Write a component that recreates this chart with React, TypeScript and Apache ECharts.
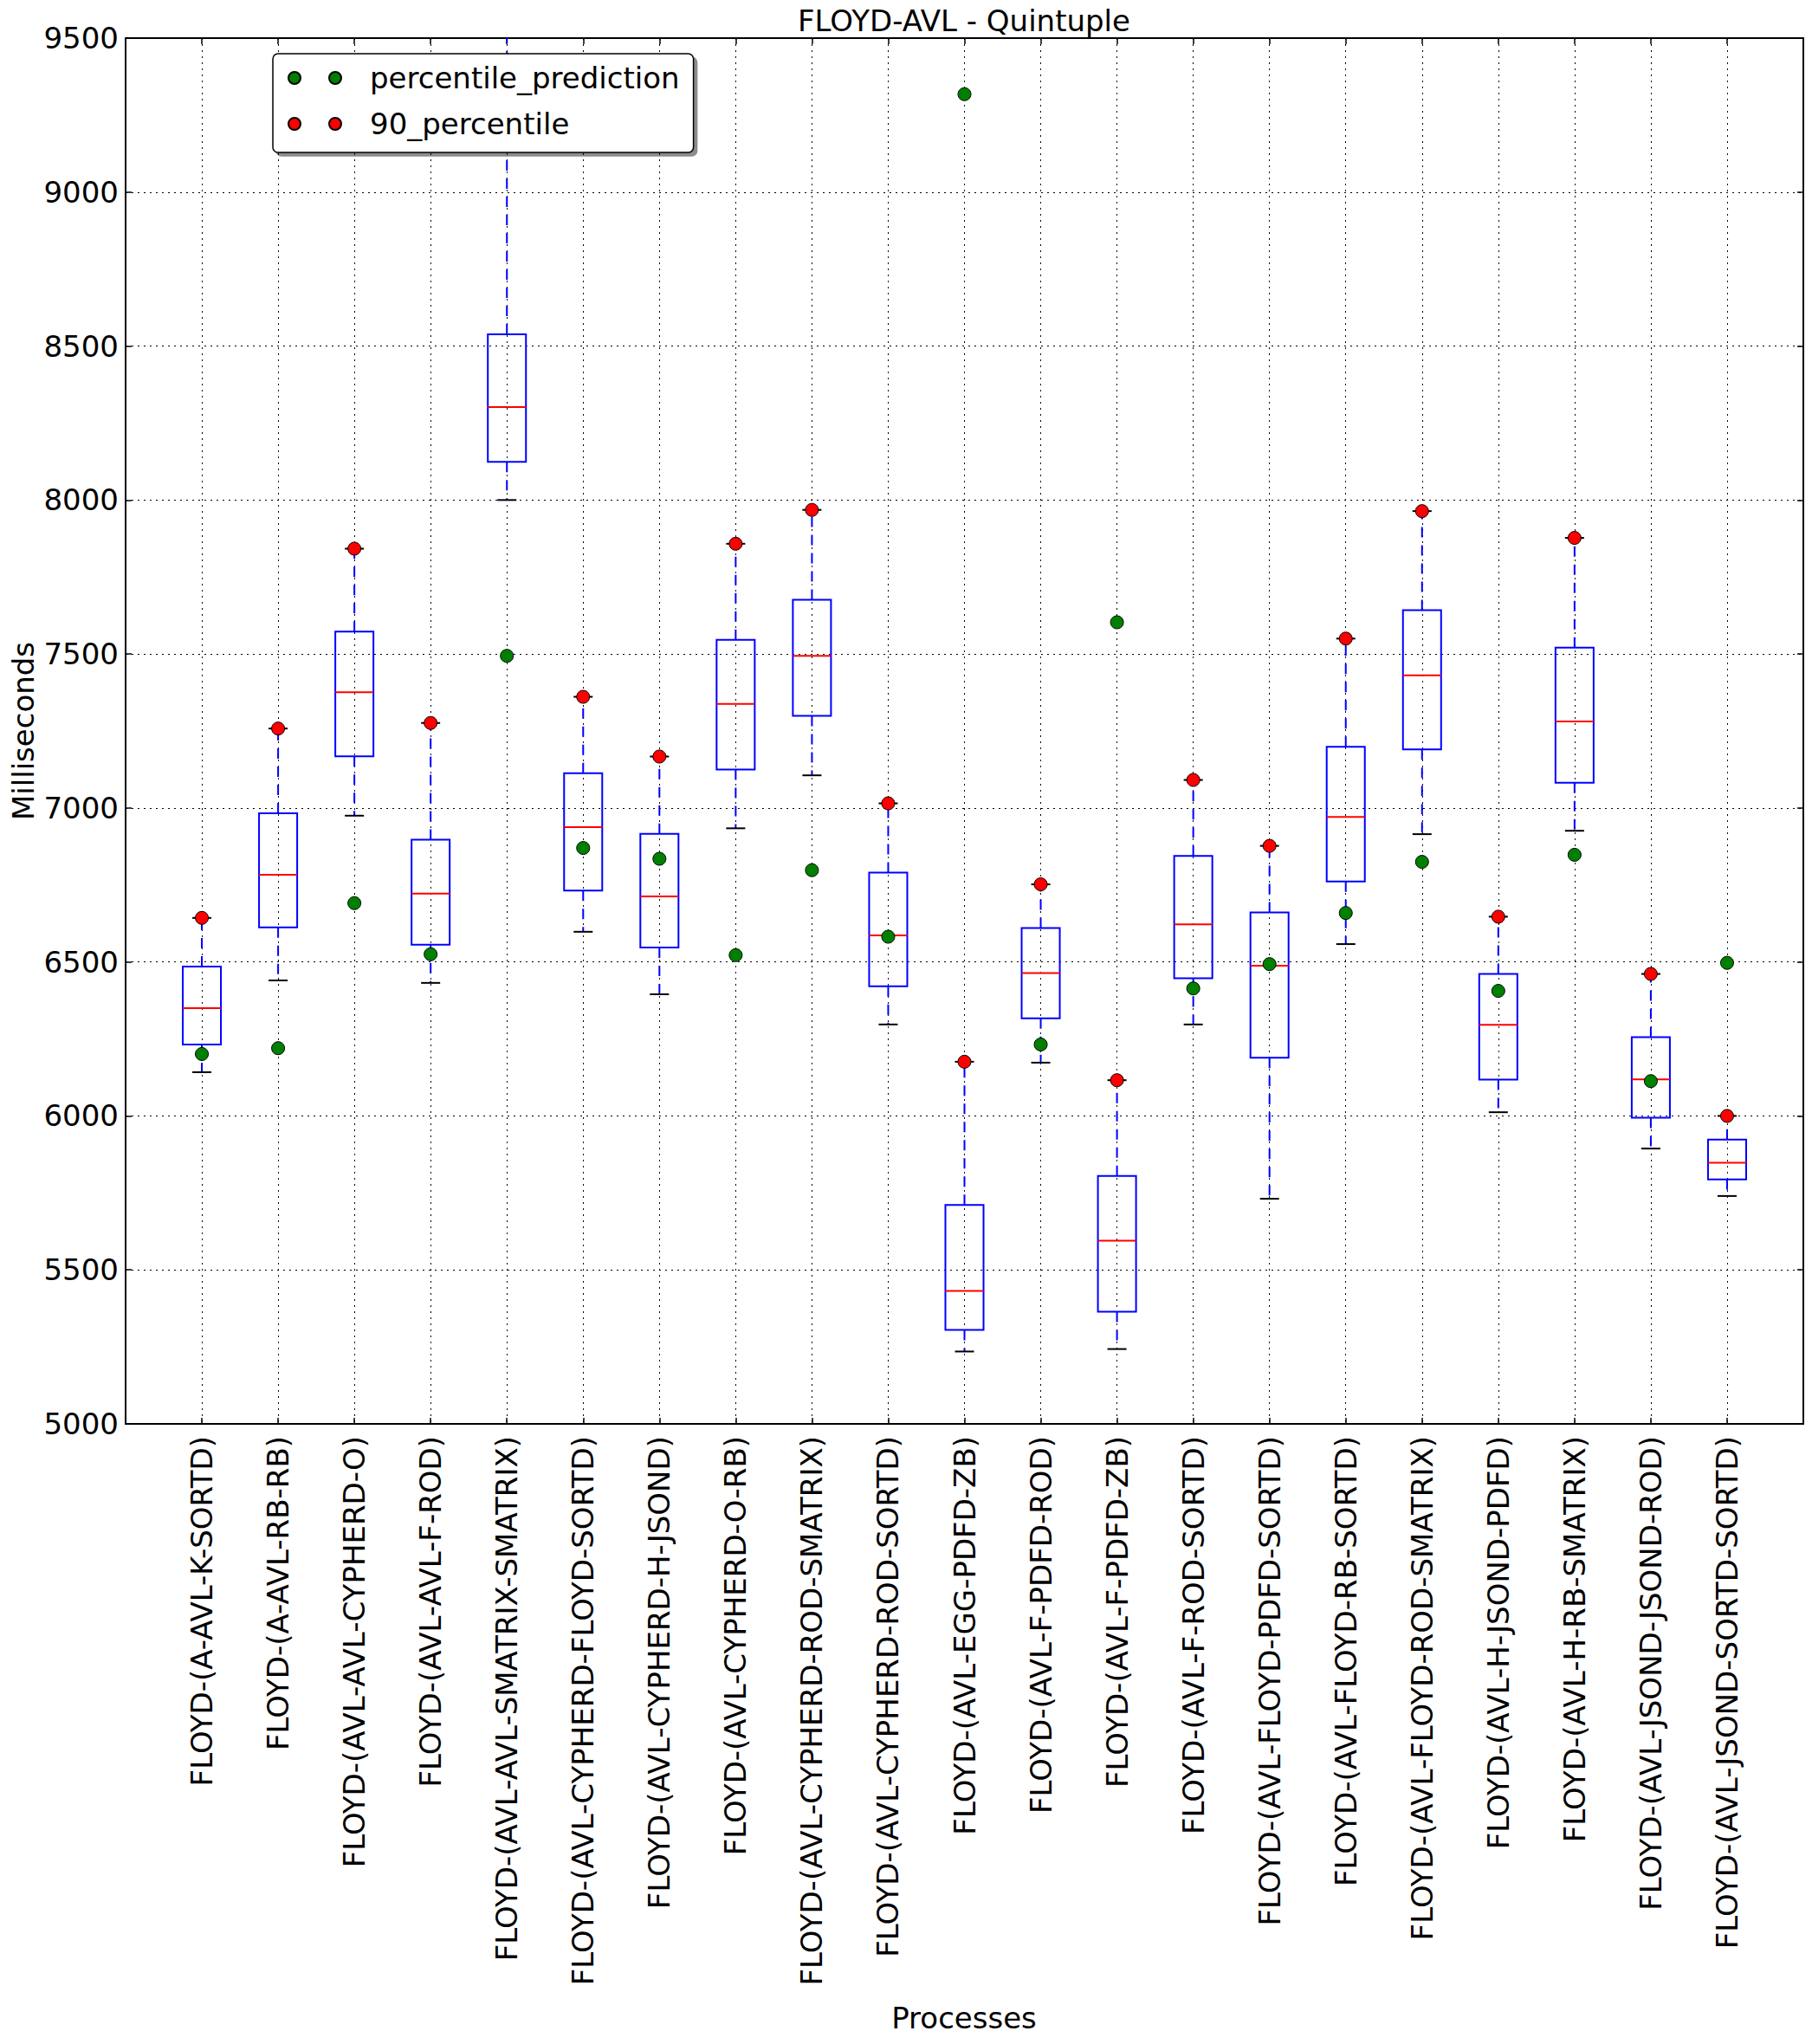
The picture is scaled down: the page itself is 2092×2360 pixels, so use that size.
import React, { useEffect, useRef } from "react";
import * as echarts from "echarts";

const categories = [
  "FLOYD-(A-AVL-K-SORTD)",
  "FLOYD-(A-AVL-RB-RB)",
  "FLOYD-(AVL-AVL-CYPHERD-O)",
  "FLOYD-(AVL-AVL-F-ROD)",
  "FLOYD-(AVL-AVL-SMATRIX-SMATRIX)",
  "FLOYD-(AVL-CYPHERD-FLOYD-SORTD)",
  "FLOYD-(AVL-CYPHERD-H-JSOND)",
  "FLOYD-(AVL-CYPHERD-O-RB)",
  "FLOYD-(AVL-CYPHERD-ROD-SMATRIX)",
  "FLOYD-(AVL-CYPHERD-ROD-SORTD)",
  "FLOYD-(AVL-EGG-PDFD-ZB)",
  "FLOYD-(AVL-F-PDFD-ROD)",
  "FLOYD-(AVL-F-PDFD-ZB)",
  "FLOYD-(AVL-F-ROD-SORTD)",
  "FLOYD-(AVL-FLOYD-PDFD-SORTD)",
  "FLOYD-(AVL-FLOYD-RB-SORTD)",
  "FLOYD-(AVL-FLOYD-ROD-SMATRIX)",
  "FLOYD-(AVL-H-JSOND-PDFD)",
  "FLOYD-(AVL-H-RB-SMATRIX)",
  "FLOYD-(AVL-JSOND-JSOND-ROD)",
  "FLOYD-(AVL-JSOND-SORTD-SORTD)",
];

const whiskerLow = [6142, 6440, 6975, 6432, 8000, 6598, 6395, 6934, 7106, 6297, 5235, 6173, 5243, 6297, 5731, 6558, 6915, 6012, 6926, 5894, 5740];
const q1 = [6232, 6612, 7168, 6556, 8124, 6732, 6547, 7125, 7299, 6421, 5305, 6317, 5364, 6447, 6189, 6761, 7190, 6118, 7082, 5994, 5794];
const median = [6350, 6783, 7376, 6722, 8302, 6938, 6713, 7338, 7494, 6586, 5432, 6464, 5595, 6622, 6488, 6971, 7431, 6296, 7281, 6119, 5848];
const q3 = [6485, 6983, 7573, 6897, 8538, 7113, 6916, 7546, 7676, 6790, 5711, 6610, 5805, 6844, 6661, 7199, 7642, 6461, 7521, 6256, 5923];
const whiskerHigh = [6643, 7258, 7842, 7276, 9750, 7361, 7167, 7858, 7968, 7015, 6176, 6752, 6116, 7091, 6877, 7550, 7964, 6647, 7877, 6461, 6000];
const percentile90 = [6643, 7258, 7842, 7276, 9750, 7361, 7167, 7858, 7968, 7015, 6176, 6752, 6116, 7091, 6877, 7550, 7964, 6647, 7877, 6461, 6000];
const percentilePrediction = [6201, 6220, 6691, 6525, 7494, 6870, 6835, 6522, 6798, 6582, 9318, 6232, 7603, 6414, 6493, 6659, 6825, 6406, 6848, 6113, 6497];

const yMin = 5000;
const yMax = 9500;
const yStep = 500;

const FONT = "DejaVu Sans";

export default function App() {
  const ref = useRef<HTMLDivElement>(null);

  useEffect(() => {
    document.body.style.margin = "0";
    if (!ref.current) return;
    const chart = echarts.init(ref.current, undefined, { renderer: "svg" });

    const boxData = categories.map((_, i) => [
      i + 1,
      whiskerLow[i],
      q1[i],
      median[i],
      q3[i],
      whiskerHigh[i],
    ]);
    const greenData = categories.map((_, i) => [i + 1, percentilePrediction[i]]);
    const redData = categories.map((_, i) => [i + 1, percentile90[i]]);

    const twoDots =
      "path://M0,7a7,7 0 1,0 14,0a7,7 0 1,0 -14,0z M47,7a7,7 0 1,0 14,0a7,7 0 1,0 -14,0z";

    const option: any = {
      animation: false,
      backgroundColor: "#ffffff",
      textStyle: { fontFamily: FONT },
      grid: { left: 145, right: 10, top: 44, bottom: 716, containLabel: false },
      xAxis: [
        {
          type: "value",
          min: 0,
          max: 22,
          interval: 1,
          position: "bottom",
          axisLine: { show: true, onZero: false, lineStyle: { color: "#000", width: 2 } },
          axisTick: { show: true, inside: true, length: 7, lineStyle: { color: "#000", width: 1.5 } },
          axisLabel: {
            show: true,
            rotate: 90,
            margin: 14,
            fontSize: 34,
            fontFamily: FONT,
            color: "#000",
            formatter: (v: number) => (v >= 1 && v <= categories.length ? categories[v - 1] : ""),
          },
          splitLine: { show: true, lineStyle: { color: "#000", width: 1, type: [2, 5] } },
        },
        {
          type: "value",
          min: 0,
          max: 22,
          interval: 1,
          position: "top",
          axisLine: { show: true, onZero: false, lineStyle: { color: "#000", width: 2 } },
          axisTick: { show: true, inside: true, length: 7, lineStyle: { color: "#000", width: 1.5 } },
          axisLabel: { show: false },
          splitLine: { show: false },
        },
      ],
      yAxis: [
        {
          type: "value",
          min: yMin,
          max: yMax,
          interval: yStep,
          position: "left",
          axisLine: { show: true, onZero: false, lineStyle: { color: "#000", width: 2 } },
          axisTick: { show: true, inside: true, length: 7, lineStyle: { color: "#000", width: 1.5 } },
          axisLabel: {
            fontSize: 34,
            margin: 8,
            color: "#000",
            fontFamily: FONT,
            formatter: (v: number) => String(v),
          },
          splitLine: { show: true, lineStyle: { color: "#000", width: 1, type: [2, 5] } },
        },
        {
          type: "value",
          min: yMin,
          max: yMax,
          interval: yStep,
          position: "right",
          axisLine: { show: true, onZero: false, lineStyle: { color: "#000", width: 2 } },
          axisTick: { show: true, inside: true, length: 7, lineStyle: { color: "#000", width: 1.5 } },
          axisLabel: { show: false },
          splitLine: { show: false },
        },
      ],
      legend: {
        show: true,
        orient: "vertical",
        left: 315,
        top: 62,
        icon: twoDots,
        itemWidth: 61,
        itemHeight: 14,
        itemGap: 19,
        padding: [11, 16, 16, 17],
        backgroundColor: "#ffffff",
        borderColor: "#000",
        borderWidth: 1.5,
        borderRadius: 6,
        shadowColor: "rgba(0,0,0,0.45)",
        shadowBlur: 1,
        shadowOffsetX: 4,
        shadowOffsetY: 4,
        textStyle: { fontSize: 34, color: "#000", fontFamily: FONT, padding: [0, 0, 0, 28] },
        data: ["percentile_prediction", "90_percentile"],
      },
      graphic: [
        {
          type: "text",
          x: 1113,
          y: 24,
          style: {
            text: "FLOYD-AVL - Quintuple",
            fontSize: 34,
            fontFamily: FONT,
            fill: "#000",
            align: "center",
            verticalAlign: "middle",
          },
        },
        {
          type: "text",
          x: 1113,
          y: 2330,
          style: {
            text: "Processes",
            fontSize: 34,
            fontFamily: FONT,
            fill: "#000",
            align: "center",
            verticalAlign: "middle",
          },
        },
        {
          type: "text",
          x: 27,
          y: 844,
          rotation: Math.PI / 2,
          style: {
            text: "Milliseconds",
            fontSize: 34,
            fontFamily: FONT,
            fill: "#000",
            align: "center",
            verticalAlign: "middle",
          },
        },
      ],
      series: [
        {
          type: "custom",
          name: "boxes",
          clip: true,
          xAxisIndex: 0,
          yAxisIndex: 0,
          data: boxData,
          encode: { x: 0, y: [1, 2, 3, 4, 5] },
          renderItem: (params: any, api: any) => {
            const x = api.value(0);
            const lo = api.coord([x, api.value(1)]);
            const b1 = api.coord([x, api.value(2)]);
            const md = api.coord([x, api.value(3)]);
            const b3 = api.coord([x, api.value(4)]);
            const hi = api.coord([x, api.value(5)]);
            const unit = api.size([1, 0])[0];
            const bw = unit * 0.5;
            const cw = unit * 0.25;
            const cx = lo[0];
            const whisk = { stroke: "#0000ff", lineWidth: 2, lineDash: [12, 9], fill: null };
            return {
              type: "group",
              children: [
                { type: "line", shape: { x1: cx, y1: b3[1], x2: cx, y2: hi[1] }, style: whisk },
                { type: "line", shape: { x1: cx, y1: b1[1], x2: cx, y2: lo[1] }, style: whisk },
                {
                  type: "line",
                  shape: { x1: cx - cw / 2, y1: hi[1], x2: cx + cw / 2, y2: hi[1] },
                  style: { stroke: "#000", lineWidth: 2 },
                },
                {
                  type: "line",
                  shape: { x1: cx - cw / 2, y1: lo[1], x2: cx + cw / 2, y2: lo[1] },
                  style: { stroke: "#000", lineWidth: 2 },
                },
                {
                  type: "rect",
                  shape: { x: cx - bw / 2, y: b3[1], width: bw, height: b1[1] - b3[1] },
                  style: { fill: "none", stroke: "#0000ff", lineWidth: 2 },
                },
                {
                  type: "line",
                  shape: { x1: cx - bw / 2, y1: md[1], x2: cx + bw / 2, y2: md[1] },
                  style: { stroke: "#ff0000", lineWidth: 2 },
                },
              ],
            };
          },
          z: 2,
        },
        {
          type: "scatter",
          name: "percentile_prediction",
          xAxisIndex: 0,
          yAxisIndex: 0,
          data: greenData,
          symbol: "circle",
          symbolSize: 15,
          clip: true,
          itemStyle: { color: "#008000", borderColor: "#000", borderWidth: 1, opacity: 1 },
          z: 3,
        },
        {
          type: "scatter",
          name: "90_percentile",
          xAxisIndex: 0,
          yAxisIndex: 0,
          data: redData,
          symbol: "circle",
          symbolSize: 15,
          clip: true,
          itemStyle: { color: "#ff0000", borderColor: "#000", borderWidth: 1, opacity: 1 },
          z: 4,
        },
      ],
    };

    chart.setOption(option);
    return () => {
      chart.dispose();
    };
  }, []);

  return <div ref={ref} style={{ width: 2092, height: 2360 }} />;
}
